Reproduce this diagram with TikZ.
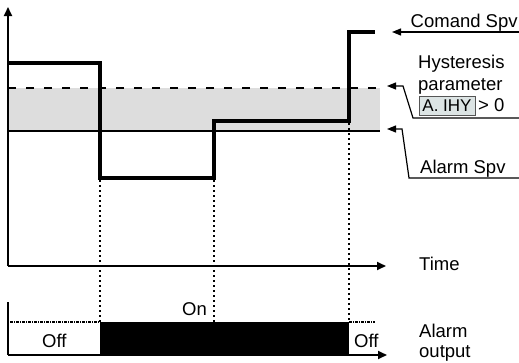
\documentclass[tikz,border=0pt]{standalone}
\usepackage{fontspec}
\setmainfont{Liberation Sans}
\usetikzlibrary{arrows.meta}
\definecolor{band}{HTML}{DDDDDD}
\definecolor{dispbg}{HTML}{DCE4E4}
\definecolor{dispfr}{HTML}{555555}
\tikzset{
  axis/.style={line width=1.8pt,-{Triangle[length=9pt,width=8pt]}},
  plainax/.style={line width=1.8pt},
  signal/.style={line width=3.2pt,line join=miter},
  vdot/.style={line width=1.8pt,dash pattern=on 2pt off 3pt},
  hdot/.style={line width=1.2pt,dash pattern=on 3pt off 1pt on 1pt off 1pt},
  lead/.style={line width=1.2pt,-{Triangle[length=9pt,width=7pt]}},
  lbl/.style={anchor=base west,inner sep=0pt,font=\fontsize{18.5}{21}\selectfont},
}
\begin{document}
\begin{tikzpicture}[x=1pt,y=-1pt]
\useasboundingbox (0,0) rectangle (519,362);
% band
\fill[band] (8,88) rectangle (380,131);
\draw[line width=1.8pt,dash pattern=on 8pt off 10pt] (8,88) -- (380,88);
\draw[line width=1.8pt] (8,131) -- (380,131);
% axes top
\coordinate (o) at (8,266);
\coordinate (ytop) at (8,7);
\coordinate (tend) at (386,266);
\draw[axis] (o) -- (ytop);
\draw[axis] (o) -- (tend);
% dotted verticals
\draw[vdot] (100,180) -- (100,322);
\draw[vdot] (214,180) -- (214,322);
\draw[vdot] (349,123) -- (349,322);
% signal
\draw[signal] (8,63) -- (100,63) -- (100,178) -- (214,178) -- (214,121) -- (349,121) -- (349,32) -- (375,32);
% bottom panel
\coordinate (bo) at (8,355);
\coordinate (btop) at (8,302);
\coordinate (bend) at (387,355);
\fill[black] (100,322) rectangle (349,355);
\draw[hdot] (10,322) -- (100,322);
\draw[hdot] (349,322) -- (375,322);
\draw[plainax] (btop) -- (bo);
\draw[axis] (bo) -- (bend);
% leaders
\draw[lead] (519,32) -- (392,32);
\draw[lead] (519,118) -- (413,118) -- (403,86) -- (387,86);
\draw[lead] (519,178) -- (409,178) -- (402,129) -- (387,129);
% labels
\node[lbl] (cmd) at (410.5,27) {Comand Spv};
\node[lbl] (hy1) at (418,68) {Hysteresis};
\node[lbl] (hy2) at (418,90) {parameter};
\node[draw=dispfr,fill=dispbg,line width=1pt,minimum width=56pt,minimum height=19pt,inner sep=0pt,font=\fontsize{17}{17}\selectfont] (disp) at (447,105.5) {A. IHY};
\node[lbl] (gt) at (478,111) {> 0};
\node[lbl] (als) at (420,173) {Alarm Spv};
\node[lbl] (time) at (419,270) {Time};
\node[lbl] (ao1) at (419,337) {Alarm};
\node[lbl] (ao2) at (419,357) {output};
\node[lbl] (off1) at (42,347) {Off};
\node[lbl] (on) at (182,315) {On};
\node[lbl] (off2) at (354,347) {Off};
\end{tikzpicture}
\end{document}
